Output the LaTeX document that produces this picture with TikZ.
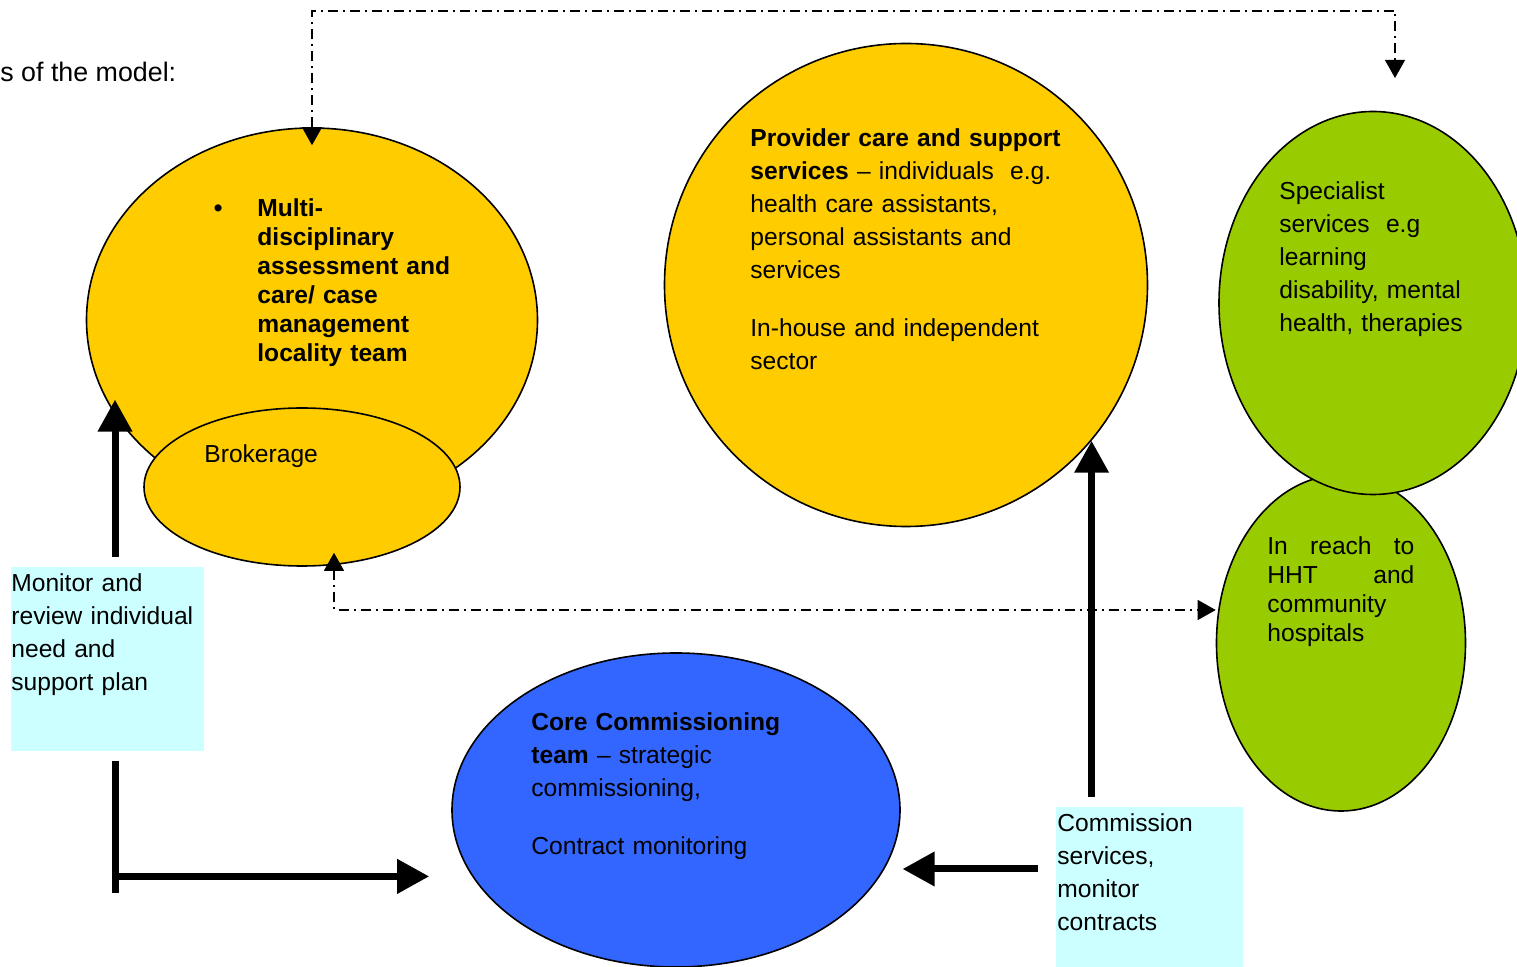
\documentclass[tikz,border=0pt]{standalone}
\usepackage{fontspec}
\setmainfont{Liberation Sans}
\usetikzlibrary{arrows.meta,shapes.geometric,calc}
\definecolor{teamyellow}{HTML}{FFCC00}
\definecolor{specgreen}{HTML}{99CC00}
\definecolor{coreblue}{HTML}{3366FF}
\definecolor{notecyan}{HTML}{CCFFFF}

\begin{document}
\begin{tikzpicture}[x=0.5pt, y=-0.5pt,
  every node/.style={font=\fontsize{12.3pt}{16.5pt}\selectfont},
  blob/.style={draw, ellipse, line width=0.8pt, inner sep=0pt},
  note/.style={fill=notecyan, inner sep=0pt},
  txt/.style={anchor=north west, inner sep=0pt, align=left},
  bigline/.style={line width=3.5pt},
  bigarrow/.style={line width=3.5pt, -{Triangle[length=16pt,width=16.5pt]}},
  flow/.style={line width=0.6pt, dash pattern=on 5pt off 2.5pt on 1pt off 2.5pt,
    {Triangle[length=9pt,width=10pt]}-{Triangle[length=9pt,width=10pt]}}]

\useasboundingbox (0,0) rectangle (1517,967);
\clip (0,0) rectangle (1517,967);

% ellipses
\node[blob, fill=teamyellow, minimum width=225.5pt, minimum height=192pt] (mdt) at (312,320) {};
\node[blob, fill=teamyellow, minimum width=158pt, minimum height=79pt] (brok) at (302,487) {};
\node[blob, fill=teamyellow, minimum width=241.5pt, minimum height=241.5pt] (prov) at (906,285) {};
\node[blob, fill=specgreen, minimum width=124.5pt, minimum height=168pt] (reach) at (1341,643) {};
\node[blob, fill=specgreen, minimum width=154pt, minimum height=191.5pt] (spec) at (1373,303) {};
\node[blob, fill=coreblue, minimum width=224pt, minimum height=157pt] (core) at (676,810) {};

% note boxes
\node[note, minimum width=96.5pt, minimum height=92pt] (mon) at (107.5,659) {};
\node[note, minimum width=93.5pt, minimum height=80pt] (comm) at (1149.5,887) {};

% texts
\node[txt, font=\fontsize{13.4pt}{16pt}\selectfont] (model) at (0,62) {s of the model:};
\node[txt, text width=110pt, font=\bfseries\fontsize{12.3pt}{14.5pt}\selectfont] (mdttext) at (257,198)
  {\llap{\textbullet\hspace{17.5pt}}Multi-\\disciplinary\\assessment and\\care/ case\\management\\locality team};
\node[txt] (broktext) at (204,444) {Brokerage};
\node[txt, text width=170pt] (provtext) at (750,128)
  {\textbf{Provider care and support}\\\textbf{services} -- individuals\ \ e.g.\\health care assistants,\\personal assistants and\\services\\[12.5pt]In-house and independent\\sector};
\node[txt, text width=100pt] (spectext) at (1279,181)
  {Specialist\\services\ \ e.g\\learning\\disability, mental\\health, therapies};
\node[txt, text width=73.5pt, font=\fontsize{12.3pt}{14.5pt}\selectfont] (reachtext) at (1267,536)
  {In\hfill reach\hfill to\\HHT\hfill and\\community\\hospitals};
\node[txt, text width=150pt] (coretext) at (531,712)
  {\textbf{Core Commissioning}\\\textbf{team} -- strategic\\commissioning,\\[12.5pt]Contract monitoring};
\node[txt, text width=96pt] (montext) at (11,573) {Monitor and\\review individual\\need and\\support plan};
\node[txt, text width=93pt] (commtext) at (1057,813) {Commission\\services,\\monitor\\contracts};

% thick arrows
\draw[bigarrow] ([shift={(3.75pt,5pt)}]mon.north) -- ++(0,-157);
\draw[bigline] ([shift={(3.75pt,-5pt)}]mon.south) -- ++(0,132);
\coordinate (lcorner) at ([shift={(3.75pt,-62.5pt)}]mon.south);
\draw[bigarrow] (lcorner) -- ([xshift=-11pt]core.west |- lcorner);
\draw[bigarrow] ([shift={(-9pt,9pt)}]comm.west) -- ++(-135,0);
\coordinate (provin) at (prov.-40);
\coordinate (commtop) at ([yshift=5pt]comm.north);
\draw[bigarrow] (commtop -| provin) -- (provin);

% dash-dot links
\coordinate (toprail) at (312,11);
\coordinate (topend) at (1395,78);
\draw[flow] ([yshift=-9pt]mdt.north) -- (toprail) -| (topend);
\coordinate (botrail) at (334,610);
\draw[flow] ($(botrail |- brok.south)+(0,-14)$) -- (botrail) -- (reach.west |- botrail);

\end{tikzpicture}
\end{document}
